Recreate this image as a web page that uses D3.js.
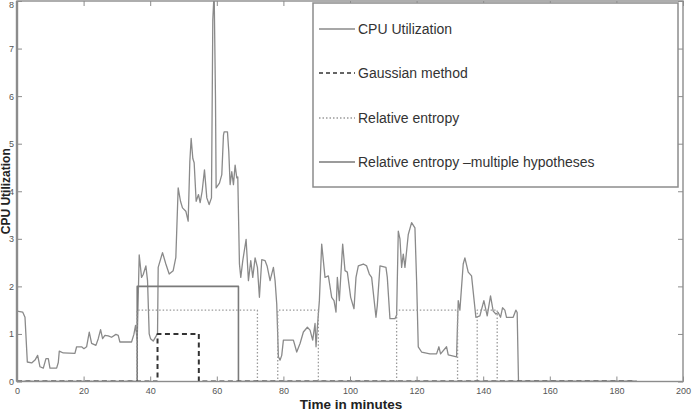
<!DOCTYPE html>
<html><head><meta charset="utf-8">
<script src="https://cdn.jsdelivr.net/npm/d3@7"></script>
<style>body{margin:0;background:#fff;}svg{display:block;font-family:"Liberation Sans",Arial,sans-serif;}</style>
</head><body>
<svg id="c" width="693" height="411"></svg>
<script>
// ---- data ----
const cpuTime = [0,1.7,2.4,3.1,4.4,5.4,6.2,6.9,7.9,8.7,9.4,9.9,11.9,12.4,12.7,13.9,17.4,17.9,19.4,20.1,20.9,21.7,22.4,23.7,24.4,25.1,25.7,26.4,27.4,28.4,29.7,30.4,30.9,34.4,35.1,35.6,36.1,36.7,37.4,37.9,38.7,39.2,39.7,40.1,40.9,41.9,42.2,42.4,43.7,44.7,45.7,46.9,47.7,48.4,49.1,49.7,50.7,51.4,51.9,52.3,52.8,53.2,53.8,54.5,55.0,55.6,56.3,57.0,57.7,58.4,58.8,59.2,59.6,59.8,60.8,61.5,62.0,62.2,63.2,63.6,64.0,64.5,65.0,65.5,66.0,66.3,66.8,67.2,67.8,68.8,69.5,70.2,70.8,71.5,72.2,72.8,73.5,74.5,75.1,76.0,77.0,77.5,78.0,78.5,79.0,79.5,80.0,83.0,84.0,85.0,86.0,87.2,88.0,88.8,89.5,89.8,90.2,90.8,91.5,92.5,93.5,94.5,95.2,95.8,96.2,96.8,97.8,98.5,99.2,100.2,101.2,101.8,102.5,104.0,105.0,105.8,106.5,107.8,108.2,109.0,110.8,111.2,112.0,113.5,114.0,114.5,115.0,115.5,116.0,116.5,117.5,118.5,119.5,120.0,120.5,121.5,124.0,126.0,126.7,127.2,129.0,129.5,132.0,132.5,133.0,134.0,134.5,135.5,136.5,137.8,139.0,140.2,141.2,142.2,143.0,143.8,144.5,145.2,145.8,146.5,147.0,149.0,149.8,150.2,150.6,186];
const cpuValue = [1.48,1.46,1.35,0.41,0.39,0.45,0.55,0.31,0.28,0.48,0.48,0.28,0.28,0.4,0.64,0.6,0.59,0.73,0.73,0.69,0.73,1.04,0.8,0.76,0.9,1.09,0.9,0.97,0.96,0.93,0.99,0.97,0.83,0.83,0.99,1.18,0.87,2.66,2.19,2.25,2.43,2.12,1.0,0.9,0.85,0.97,1.0,2.4,2.71,2.47,2.26,2.33,2.61,4.07,3.79,3.65,3.58,3.37,4.62,5.11,4.69,4.6,3.79,3.93,3.76,4.0,4.45,3.86,3.72,3.86,7.6,8.2,6.0,4.07,4.17,4.35,5.18,5.25,5.25,4.83,4.14,4.41,4.14,4.55,4.28,4.3,2.47,2.19,2.54,2.99,2.12,2.54,2.19,2.6,2.4,1.77,2.56,2.54,2.43,2.12,2.4,2.12,1.63,0.52,0.45,0.55,0.87,0.87,0.62,0.8,1.04,1.14,1.08,0.87,1.22,0.73,1.14,1.7,2.89,2.19,2.22,1.77,1.7,1.46,2.19,1.7,2.89,2.33,2.3,1.77,1.53,2.19,2.43,2.47,2.43,2.26,2.19,1.35,1.6,2.43,2.4,2.19,1.32,1.32,1.4,3.16,3.0,2.4,2.68,2.4,3.09,3.34,3.23,2.12,0.73,0.62,0.58,0.58,0.73,0.58,0.73,0.56,0.52,1.7,1.5,2.47,2.6,2.3,2.22,1.35,1.38,1.7,1.38,1.8,1.48,1.42,1.45,1.35,1.55,1.5,1.35,1.35,1.5,1.45,0,0];
const gaussTime  = [0,42.2,42.2,54.6,54.6,186];
const gaussValue = [0,0,1,1,0,0];
const reTime  = [0,36,36,72.2,72.2,78.3,78.3,90.5,90.5,114.0,114.0,132.3,132.3,138.2,138.2,144.2,144.2,186];
const reValue = [0,0,1.5,1.5,0,0,1.5,1.5,0,0,1.5,1.5,0,0,1.5,1.5,0,0];
const mhTime  = [0,36.1,36.1,66.5,66.5,186];
const mhValue = [0,0,2,2,0,0];
const xTicks = [0,20,40,60,80,100,120,140,160,180,200];
const yTicks = [0,1,2,3,4,5,6,7,8];
const legendLabels = ["CPU Utilization","Gaussian method","Relative entropy","Relative entropy \u2013multiple hypotheses"];
const xTitle = "Time in minutes";
const yTitle = "CPU Utilization";

// ---- drawing ----
const svg = d3.select("#c");
const L = 17, R = 683, T = 1, B = 381.5;
const x = d3.scaleLinear().domain([0,200]).range([L,R]);
const y = d3.scaleLinear().domain([0,8]).range([B,T]);

svg.append("defs").append("clipPath").attr("id","clip")
  .append("rect").attr("x",L).attr("y",T).attr("width",R-L).attr("height",B-T);

const zip = (a,b)=>a.map((t,i)=>[t,b[i]]);
const line = d3.line().x(d=>x(d[0])).y(d=>y(d[1]));
const g = svg.append("g").attr("clip-path","url(#clip)");

const series = [
  {d: zip(cpuTime,cpuValue), stroke:"#8a8a8a", w:1.3, dash:null},
  {d: zip(mhTime,mhValue), stroke:"#7a7a7a", w:1.6, dash:null},
  {d: zip(reTime,reValue), stroke:"#9a9a9a", w:1.3, dash:"1.5,2"},
  {d: zip(gaussTime,gaussValue), stroke:"#333", w:2, dash:"5,3.5"}
];
series.forEach(s=>{
  g.append("path").attr("d",line(s.d)).attr("fill","none")
   .attr("stroke",s.stroke).attr("stroke-width",s.w)
   .attr("stroke-dasharray",s.dash).attr("stroke-linejoin","round");
});

// axes
const axCol = "#8c8c8c";
const gx = svg.append("g").attr("transform",`translate(0,${B})`)
  .call(d3.axisBottom(x).tickValues(xTicks).tickSize(-5).tickPadding(6));
const gxt = svg.append("g").attr("transform",`translate(0,${T})`)
  .call(d3.axisTop(x).tickValues(xTicks).tickSize(-5).tickFormat(""));
const gy = svg.append("g").attr("transform",`translate(${L},0)`)
  .call(d3.axisLeft(y).tickValues(yTicks).tickSize(-5).tickPadding(3));
const gyr = svg.append("g").attr("transform",`translate(${R},0)`)
  .call(d3.axisRight(y).tickValues(yTicks).tickSize(-5).tickFormat(""));
[gx,gxt,gy,gyr].forEach(a=>{
  a.select(".domain").remove();
  a.selectAll("line").attr("stroke",axCol);
  a.selectAll("text").attr("fill","#555").style("font-size","9px").style("font-family","'Liberation Sans',Arial,sans-serif");
});
// keep the top "8" label inside the picture
gy.selectAll(".tick").filter(d=>d===8).select("text").attr("dy","0.75em");
svg.append("rect").attr("x",L).attr("y",T).attr("width",R-L).attr("height",B-T)
  .attr("fill","none").attr("stroke",axCol).attr("stroke-width",1.4);
svg.append("line").attr("x1",L).attr("x2",L).attr("y1",T).attr("y2",B)
  .attr("stroke",axCol).attr("stroke-width",2.4);

// titles
svg.append("text").attr("x",(L+R)/2+1).attr("y",409).attr("text-anchor","middle")
  .attr("font-weight","bold").attr("font-size",13.5).attr("fill","#222").text(xTitle);
svg.append("text").attr("transform",`translate(9.5,${(T+B)/2}) rotate(-90)`).attr("text-anchor","middle")
  .attr("font-weight","bold").attr("font-size",12).attr("fill","#222").text(yTitle);

// legend
const lg = svg.append("g");
lg.append("rect").attr("x",313).attr("y",3).attr("width",365).attr("height",184)
  .attr("fill","#fff").attr("stroke","#8c8c8c").attr("stroke-width",1.5);
const legStyles = [series[0],series[3],series[2],series[1]];
const legY = [29,73,118,162];
legendLabels.forEach((lab,i)=>{
  const s = legStyles[i];
  lg.append("line").attr("x1",319).attr("x2",355).attr("y1",legY[i]).attr("y2",legY[i])
    .attr("stroke",s.stroke).attr("stroke-width",i===1?1.4:s.w).attr("stroke-dasharray",i===1?"4,3":s.dash);
  lg.append("text").attr("x",358).attr("y",legY[i]).attr("dy","0.35em")
    .attr("font-size",14).attr("fill","#333").text(lab);
});
</script>
</body></html>
